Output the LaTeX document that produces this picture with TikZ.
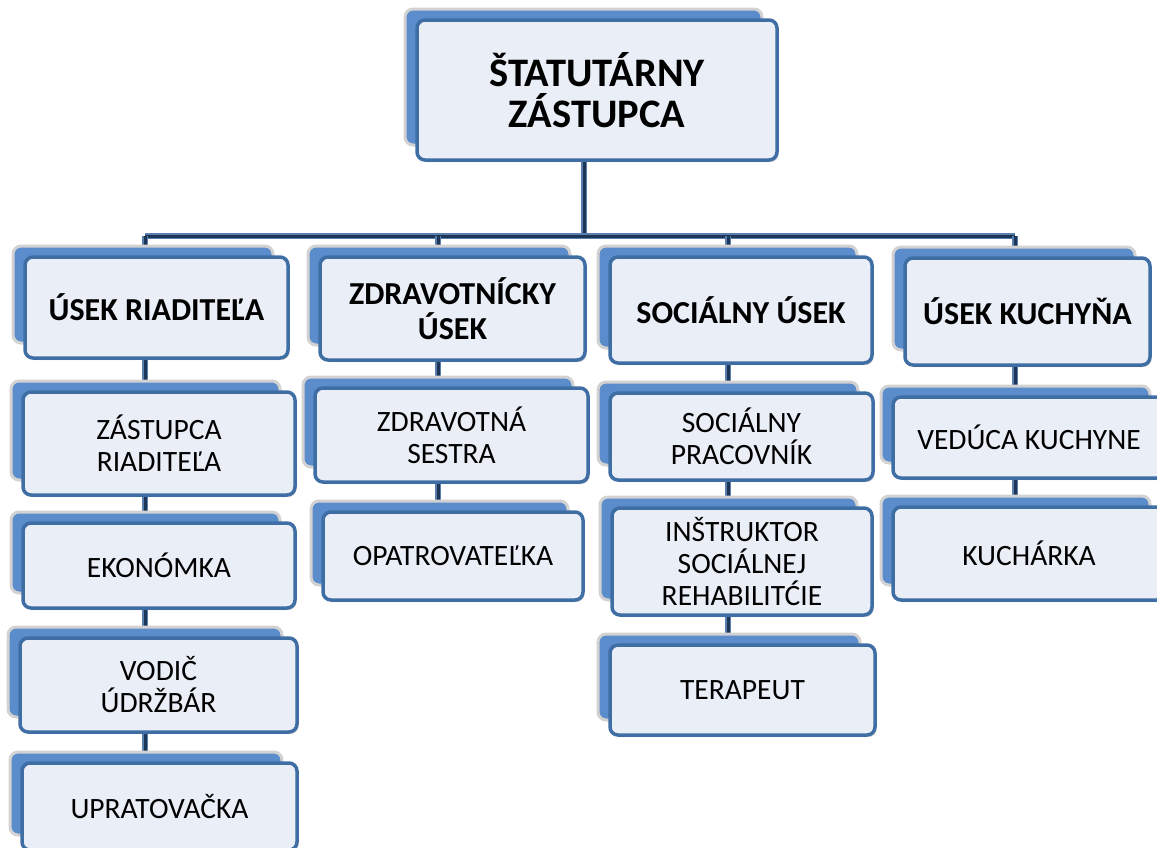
\documentclass[tikz,border=0pt]{standalone}
\usepackage{fontspec}
\setmainfont{Carlito}
\usetikzlibrary{calc,shadows}
\pgfdeclarelayer{bg}\pgfdeclarelayer{mid}\pgfsetlayers{bg,mid,main}
\definecolor{frontfill}{HTML}{E9EEF7}
\definecolor{frontdraw}{HTML}{3F6EA5}
\definecolor{backfill}{HTML}{5B8CCB}
\definecolor{backdraw}{HTML}{D2D2D2}
\definecolor{connout}{HTML}{5A7FAE}
\definecolor{connin}{HTML}{1D3658}
\tikzset{
 front/.style={draw=frontdraw, fill=frontfill, line width=3.5pt, rounded corners=8pt, inner sep=0pt, align=center, text=black,
   drop shadow={opacity=0.35, shadow xshift=1.5pt, shadow yshift=-2pt}},
 backbox/.style={draw=backdraw, fill=backfill, line width=3pt, rounded corners=8pt},
 topfont/.style={font=\fontsize{40.5}{41}\selectfont\bfseries},
 secfont/.style={font=\fontsize{32}{35}\selectfont\bfseries},
 subfont/.style={font=\fontsize{29.5}{32}\selectfont},
 conn/.style={line width=1.1pt, draw=connout, double=connin, double distance=3pt},
}
\newcommand\obox[7]{%
 \node[front,#6,minimum width={#4-#2},minimum height={#5-#3}] (#1) at ({(#2+#4)/2},{(#3+#5)/2}) {#7};
 \begin{pgfonlayer}{mid}
 \draw[backbox] ({#2-12},{#3-11}) rectangle ({#4-15},{#5-15});
 \end{pgfonlayer}}
\begin{document}
\begin{tikzpicture}[x=1pt,y=-1pt]
\useasboundingbox (0,0) rectangle (1157,847);
\obox{top}{417}{20}{777}{160}{topfont}{ŠTATUTÁRNY\\ZÁSTUPCA}
\obox{s1}{25}{257}{288}{358}{secfont}{ÚSEK RIADITEĽA}
\obox{s2}{320}{257}{585}{360}{secfont}{ZDRAVOTNÍCKY\\ÚSEK}
\obox{s3}{610}{257}{872}{363}{secfont}{SOCIÁLNY ÚSEK}
\obox{s4}{905}{258}{1150}{365}{secfont}{ÚSEK KUCHYŇA}
\obox{a1}{23}{392}{295}{495}{subfont}{ZÁSTUPCA\\RIADITEĽA}
\obox{a2}{23}{523}{295}{608}{subfont}{EKONÓMKA}
\obox{a3}{20}{638}{297}{732}{subfont}{VODIČ\\ÚDRŽBÁR}
\obox{a4}{22}{763}{297}{850}{subfont}{UPRATOVAČKA}
\obox{b1}{315}{388}{588}{482}{subfont}{ZDRAVOTNÁ\\SESTRA}
\obox{b2}{323}{512}{583}{600}{subfont}{OPATROVATEĽKA}
\obox{c1}{610}{393}{873}{480}{subfont}{SOCIÁLNY\\PRACOVNÍK}
\obox{c2}{612}{508}{872}{615}{subfont}{INŠTRUKTOR\\SOCIÁLNEJ\\REHABILITĆIE}
\obox{c3}{610}{645}{875}{735}{subfont}{TERAPEUT}
\obox{d1}{893}{397}{1165}{478}{subfont}{VEDÚCA KUCHYNE}
\obox{d2}{893}{507}{1165}{600}{subfont}{KUCHÁRKA}
\coordinate (k0) at (584,236);
\coordinate (k1) at (145,236);
\coordinate (k2) at (438,236);
\coordinate (k3) at (728,236);
\coordinate (k4) at (1015,236);
\begin{pgfonlayer}{bg}
\draw[conn] (top.center -| k0) -- (k0);
\draw[conn] (k1) -- (k4);
\draw[conn] (k1) -- (k1 |- a4.center);
\draw[conn] (k2) -- (k2 |- b2.center);
\draw[conn] (k3) -- (k3 |- c3.center);
\draw[conn] (k4) -- (k4 |- d2.center);
\end{pgfonlayer}
\end{tikzpicture}
\end{document}
